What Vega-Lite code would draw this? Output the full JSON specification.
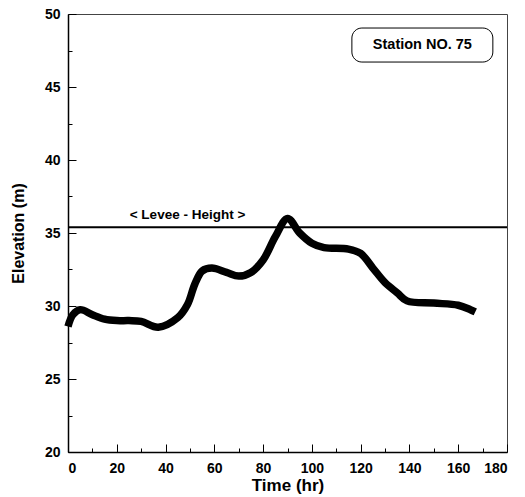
{
  "$schema": "https://vega.github.io/schema/vega-lite/v6.json",
  "width": 439,
  "height": 438,
  "autosize": "none",
  "padding": {"left": 68, "top": 14, "right": 18, "bottom": 45},
  "config": {
    "view": {"stroke": "#444", "strokeWidth": 1},
    "font": "Liberation Sans",
    "axis": {
      "domainColor": "#000",
      "domainWidth": 1.5,
      "tickColor": "#000",
      "tickWidth": 1,
      "grid": false,
      "labelFont": "Liberation Sans",
      "labelFontWeight": "bold",
      "labelFontSize": 14,
      "labelColor": "#000",
      "titleFont": "Liberation Sans",
      "titleFontWeight": "bold",
      "titleColor": "#000"
    }
  },
  "resolve": {"axis": {"x": "independent", "y": "independent"}},
  "datasets": {
    "flow": [
      {"t": 0, "h": 28.6},
      {"t": 2, "h": 29.4},
      {"t": 5, "h": 29.75},
      {"t": 10, "h": 29.4},
      {"t": 15, "h": 29.1},
      {"t": 20, "h": 29.0},
      {"t": 25, "h": 29.0},
      {"t": 30, "h": 28.95},
      {"t": 37, "h": 28.55},
      {"t": 45, "h": 29.2},
      {"t": 49, "h": 30.1},
      {"t": 52, "h": 31.5},
      {"t": 55, "h": 32.4},
      {"t": 59, "h": 32.6},
      {"t": 65, "h": 32.3},
      {"t": 70, "h": 32.05},
      {"t": 75, "h": 32.3},
      {"t": 80, "h": 33.15},
      {"t": 85, "h": 34.75},
      {"t": 90, "h": 36.0},
      {"t": 95, "h": 35.0},
      {"t": 100, "h": 34.3},
      {"t": 105, "h": 34.0},
      {"t": 115, "h": 33.9},
      {"t": 120, "h": 33.6},
      {"t": 125, "h": 32.6},
      {"t": 130, "h": 31.6},
      {"t": 135, "h": 30.9},
      {"t": 139, "h": 30.35},
      {"t": 150, "h": 30.2},
      {"t": 160, "h": 30.05},
      {"t": 165, "h": 29.75},
      {"t": 167, "h": 29.6}
    ]
  },
  "layer": [
    {
      "data": {"name": "flow"},
      "mark": {"type": "line", "color": "#000", "strokeWidth": 7.5, "strokeCap": "butt", "interpolate": "catmull-rom"},
      "encoding": {
        "x": {
          "field": "t", "type": "quantitative",
          "scale": {"domain": [0, 180], "nice": false},
          "axis": {
            "orient": "bottom",
            "title": "Time (hr)",
            "titleFontSize": 17,
            "titlePadding": 2,
            "values": [0, 20, 40, 60, 80, 100, 120, 140, 160, 180],
            "tickSize": -8,
            "labelPadding": 17
          }
        },
        "y": {
          "field": "h", "type": "quantitative",
          "scale": {"domain": [20, 50], "nice": false, "zero": false},
          "axis": {
            "orient": "left",
            "title": "Elevation (m)",
            "titleFontSize": 16,
            "titlePadding": 18,
            "values": [20, 25, 30, 35, 40, 45, 50],
            "tickSize": -8,
            "labelPadding": 16
          }
        }
      }
    },
    {
      "data": {"name": "flow"},
      "mark": {"type": "point", "opacity": 0},
      "encoding": {
        "x": {
          "field": "t", "type": "quantitative",
          "axis": {
            "orient": "bottom",
            "title": null,
            "labels": false,
            "domain": false,
            "values": [10, 30, 50, 70, 90, 110, 130, 150, 170],
            "tickSize": -4
          }
        },
        "y": {
          "field": "h", "type": "quantitative",
          "axis": {
            "orient": "left",
            "title": null,
            "labels": false,
            "domain": false,
            "values": [22.5, 27.5, 32.5, 37.5, 42.5, 47.5],
            "tickSize": -4
          }
        }
      }
    },
    {
      "data": {"values": [{"h": 35.4}]},
      "mark": {"type": "rule", "color": "#000", "strokeWidth": 2},
      "encoding": {"y": {"field": "h", "type": "quantitative", "axis": null}}
    },
    {
      "data": {"values": [{"t": 49, "h": 36.2, "label": "< Levee - Height >"}]},
      "mark": {"type": "text", "fontSize": 13.5, "fontWeight": "bold", "color": "#000"},
      "encoding": {
        "x": {"field": "t", "type": "quantitative", "axis": null},
        "y": {"field": "h", "type": "quantitative", "axis": null},
        "text": {"field": "label"}
      }
    },
    {
      "data": {"values": [{"x1": 116.4, "x2": 174.2, "y1": 46.71, "y2": 49.04}]},
      "mark": {"type": "rect", "fill": "#fff", "stroke": "#000", "strokeWidth": 1, "cornerRadius": 10},
      "encoding": {
        "x": {"field": "x1", "type": "quantitative", "axis": null},
        "x2": {"field": "x2"},
        "y": {"field": "y1", "type": "quantitative", "axis": null},
        "y2": {"field": "y2"}
      }
    },
    {
      "data": {"values": [{"t": 145.3, "h": 47.88, "label": "Station NO. 75"}]},
      "mark": {"type": "text", "fontSize": 14.5, "fontWeight": "bold", "color": "#000"},
      "encoding": {
        "x": {"field": "t", "type": "quantitative", "axis": null},
        "y": {"field": "h", "type": "quantitative", "axis": null},
        "text": {"field": "label"}
      }
    }
  ]
}
